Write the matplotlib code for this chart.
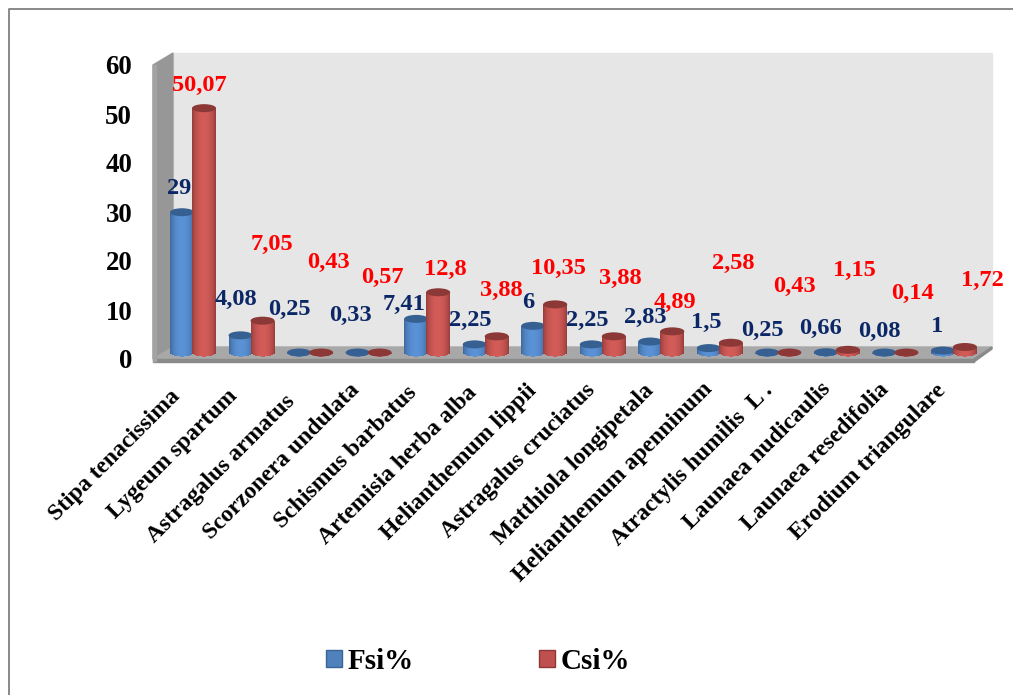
import numpy as np
import matplotlib
matplotlib.use('Agg')
import matplotlib.pyplot as plt
from matplotlib.patches import Ellipse, Polygon, Rectangle
from matplotlib.lines import Line2D
from matplotlib.transforms import Affine2D

plt.rcParams['font.family'] = ['Liberation Serif', 'DejaVu Serif']
plt.rcParams['font.weight'] = 'bold'

# species and the two indices
species = ['Stipa tenacissima', 'Lygeum spartum', 'Astragalus armatus',
           'Scorzonera undulata', 'Schismus barbatus', 'Artemisia herba alba',
           'Helianthemum lippii', 'Astragalus cruciatus', 'Matthiola longipetala',
           'Helianthemum apenninum', 'Atractylis humilis  L .', 'Launaea nudicaulis',
           'Launaea resedifolia', 'Erodium triangulare']
fsi = [29, 4.08, 0.25, 0.33, 7.41, 2.25, 6, 2.25, 2.83, 1.5, 0.25, 0.66, 0.08, 1]
csi = [50.07, 7.05, 0.43, 0.57, 12.8, 3.88, 10.35, 3.88, 4.89, 2.58, 0.43, 1.15, 0.14, 1.72]
y_ticks = [0, 10, 20, 30, 40, 50, 60]

# where the value labels were dragged to, in pixels from the top left
fsi_label_pos = [(179, 189), (236, 299), (289, 309), (351, 315), (404, 304), (470, 320), (528, 303),
                 (587, 320), (645, 317), (706, 322), (762, 330), (821, 328), (879, 331), (937, 327)]
csi_label_pos = [(199, 85), (272, 244), (328, 262), (382, 277), (445, 269), (501, 290), (558, 268),
                 (620, 278), (675, 302), (733, 263), (795, 286), (854, 270), (912, 293), (982, 280)]
# small hand nudges of the category labels, pixels
name_dx = [-4, -5, -6, 0, -1, 1, 2, 2, 2, 2, 4, 3, 3, 1]
name_dy = [6, 6, 11, 0, 2, 2, 0, 0, 0, -1, 0, -1, -1, 0]

W, H = 1013, 695
BLUE_DARK, BLUE_LIGHT, BLUE_TOP = '#3a6496', '#5a92d6', '#376092'
RED_DARK, RED_LIGHT, RED_TOP = '#8f3b39', '#d25b57', '#8c3836'

fig = plt.figure(figsize=(W / 100, H / 100), dpi=100)
px = Affine2D().scale(1, -1).translate(0, H)  # pixel coords, y pointing down


def box(left, top, right, bottom):
    return [left / W, 1 - bottom / H, (right - left) / W, (bottom - top) / H]


def backdrop(patch):
    patch.set_zorder(-1)
    fig.add_artist(patch)


# outer frame, only top and left show
fig.add_artist(Line2D([9, 9, W], [H, 9, 9], color='#808080', lw=1.3, transform=px))

# the 3d box: back wall, side wall, floor
backdrop(Polygon([(173, 53), (992, 53), (992, 347), (173, 347)], color='#e6e6e6', transform=px))
backdrop(Polygon([(153, 65), (173, 53), (173, 347), (153, 359)], color='#979797', transform=px))
backdrop(Polygon([(153, 359), (173, 347), (992, 347), (974, 359)], color='#a8a8a8', transform=px))
backdrop(Rectangle((153, 359), 821, 3, color='#8a8a8a', transform=px))
backdrop(Polygon([(974, 359), (992, 347), (992, 349), (974, 362)], color='#8a8a8a', transform=px))
backdrop(Rectangle((153, 65), 3, 296, color='#a3a3a3', transform=px))

# bars stand in the middle of the floor depth
ax = fig.add_axes(box(163.75, 59.1, 983.25, 355.5))
ax.patch.set_visible(False)
ax.set_xlim(-0.5, 13.5)
ax.set_ylim(0, 60)
for s in ax.spines.values():
    s.set_visible(False)

x = np.arange(len(species))
bar_w = 24 / 58.5
step = 22 / 58.5
cap_h = 8 / 4.94
base_v = 0.6  # base disc lies slightly above the axis zero


def cylinder(xc, value, dark, light, top, z):
    # vertical strips give the round shading and the curved bottom
    n = 24
    edges = np.linspace(-1, 1, n + 1)
    t = (edges[:-1] + edges[1:]) / 2
    arc = np.sqrt(1 - t ** 2)
    d = np.array(matplotlib.colors.to_rgb(dark))
    l = np.array(matplotlib.colors.to_rgb(light))
    colors = [d + (l - d) * a ** 1.5 for a in arc]
    drop = arc * cap_h / 2
    cap_y = max(value, base_v)
    ax.bar(xc + t * bar_w / 2, cap_y - base_v + drop, bottom=base_v - drop, width=bar_w / n * 1.05,
           color=colors, clip_on=False, zorder=z)
    ax.add_patch(Ellipse((xc, cap_y), bar_w, cap_h, facecolor=top, edgecolor='none',
                         clip_on=False, zorder=z + 0.1))


for i in x:
    cylinder(i - step / 2, fsi[i], BLUE_DARK, BLUE_LIGHT, BLUE_TOP, 3 + i)
    cylinder(i + step / 2, csi[i], RED_DARK, RED_LIGHT, RED_TOP, 3.5 + i)


def fmt(v):
    return str(v).replace('.', ',')


for v, (lx, ly) in zip(fsi, fsi_label_pos):
    ax.text(lx, ly, fmt(v), transform=px, color='#0b2765', fontsize=17.6,
            ha='center', va='center', zorder=30)
for v, (lx, ly) in zip(csi, csi_label_pos):
    ax.text(lx, ly, fmt(v), transform=px, color='#ff0000', fontsize=17.6,
            ha='center', va='center', zorder=30)

# category labels, shifted left of the ticks
ax.set_xticks(x, species, rotation=45, ha='right', rotation_mode='anchor', fontsize=17)
ax.tick_params(axis='x', length=0, pad=17.5)
for lab, dx, dy in zip(ax.get_xticklabels(), name_dx, name_dy):
    lab.set_transform(lab.get_transform() + Affine2D().translate(-20 + dx, -dy))
ax.set_yticks([])

# value axis labels follow the front edge of the side wall
front = fig.add_axes(box(153, 65, 156, 359))
front.patch.set_visible(False)
front.set_ylim(0, 60)
front.set_xticks([])
front.set_yticks(y_ticks)
front.tick_params(axis='y', length=0, pad=15, labelsize=19.4)
for s in front.spines.values():
    s.set_visible(False)

handles = [Rectangle((0, 0), 1, 1, facecolor='#4f81bd', edgecolor='#3a6496', lw=1),
           Rectangle((0, 0), 1, 1, facecolor='#c0504d', edgecolor='#8c3836', lw=1)]
fig.legend(handles, ['Fsi%', 'Csi%'], ncol=2, frameon=False, fontsize=21,
           loc='center', bbox_to_anchor=(478 / W, 1 - 661.5 / H),
           handlelength=0.55, handleheight=0.55, handletextpad=0.2, columnspacing=4.27)

fig.savefig('out.png', dpi=100)
